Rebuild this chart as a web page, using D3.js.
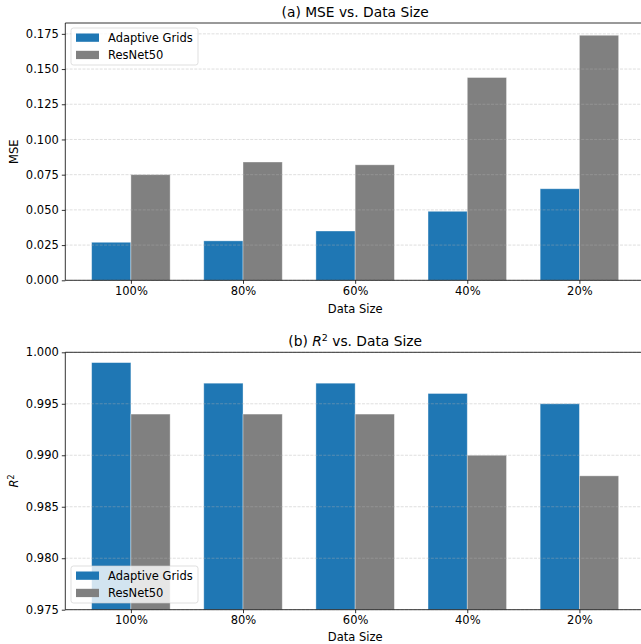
<!DOCTYPE html>
<html>
<head>
<meta charset="utf-8">
<script src="https://cdn.jsdelivr.net/npm/d3@7"></script>
<style>
  body { margin: 0; background: #fff; }
  svg { display: block; font-family: "DejaVu Sans", sans-serif; }
</style>
</head>
<body>
<svg id="chart" width="641" height="644"></svg>
<script>
// Data
const categories = ["100%", "80%", "60%", "40%", "20%"];
const seriesNames = ["Adaptive Grids", "ResNet50"];
const seriesColors = ["#1f77b4", "#808080"];
const mseAdaptive = [0.027, 0.028, 0.035, 0.049, 0.065];
const mseResNet = [0.075, 0.084, 0.082, 0.144, 0.174];
const r2Adaptive = [0.999, 0.997, 0.997, 0.996, 0.995];
const r2ResNet = [0.994, 0.994, 0.994, 0.990, 0.988];
const mseTicks = [0, 0.025, 0.05, 0.075, 0.1, 0.125, 0.15, 0.175];
const r2Ticks = [0.975, 0.98, 0.985, 0.99, 0.995, 1.0];

const svg = d3.select("#chart");
const barW = 0.35;
const fs = 11.5;

const panels = [
  { title: "(a) MSE vs. Data Size", ylab: "MSE", series: [mseAdaptive, mseResNet],
    domain: [0, 0.174 * 1.05], ticks: mseTicks, top: 23, bottom: 280.3, legendY: 28, xlabDy: 33 },
  { title: "(b) R² vs. Data Size", ylab: "R2", series: [r2Adaptive, r2ResNet],
    domain: [0.975, 1.0], ticks: r2Ticks, top: 352.3, bottom: 609.7, legendY: 566, xlabDy: 31 }
];

const left = 65.3, right = 645;

panels.forEach(p => {
  const x = d3.scaleLinear().domain([-0.585, categories.length - 1 + 0.585]).range([left, right]);
  const y = d3.scaleLinear().domain(p.domain).range([p.bottom, p.top]);
  const g = svg.append("g");

  // bars
  p.series.forEach((vals, si) => {
    g.selectAll(null)
      .data(vals)
      .enter()
      .append("rect")
      .attr("x", (d, i) => x(i - barW + si * barW))
      .attr("width", x(barW) - x(0))
      .attr("y", d => y(d))
      .attr("height", d => y(p.domain[0]) - y(d))
      .attr("fill", seriesColors[si])
      .attr("stroke", "#fff")
      .attr("stroke-opacity", 0.45)
      .attr("stroke-width", 0.8);
  });

  // dashed grid (drawn over the bars)
  g.selectAll(null)
    .data(p.ticks)
    .enter()
    .append("line")
    .attr("x1", left).attr("x2", right)
    .attr("y1", d => y(d)).attr("y2", d => y(d))
    .attr("stroke", "#b0b0b0")
    .attr("stroke-opacity", 0.5)
    .attr("stroke-width", 0.8)
    .attr("stroke-dasharray", "3,1.3");

  // axes
  const yAxis = d3.axisLeft(y).tickValues(p.ticks).tickFormat(d3.format(".3f")).tickSize(3.5).tickPadding(3);
  const ya = g.append("g").attr("transform", `translate(${left},0)`).call(yAxis);
  const xAxis = d3.axisBottom(x).tickValues(d3.range(categories.length))
    .tickFormat(i => categories[i]).tickSize(3.5).tickPadding(3);
  const xa = g.append("g").attr("transform", `translate(0,${p.bottom})`).call(xAxis);
  [ya, xa].forEach(a => {
    a.select(".domain").remove();
    a.selectAll(".tick line").attr("stroke", "#000").attr("stroke-width", 0.8);
    a.selectAll(".tick text").attr("font-size", fs).attr("fill", "#000")
      .style("font-family", "DejaVu Sans");
  });

  // spines (left, bottom, top)
  g.append("line").attr("x1", left).attr("x2", left).attr("y1", p.top).attr("y2", p.bottom)
    .attr("stroke", "#000").attr("stroke-width", 0.8);
  g.append("line").attr("x1", left).attr("x2", right).attr("y1", p.bottom).attr("y2", p.bottom)
    .attr("stroke", "#000").attr("stroke-width", 0.8);
  g.append("line").attr("x1", left).attr("x2", right).attr("y1", p.top).attr("y2", p.top)
    .attr("stroke", "#000").attr("stroke-width", 0.8);

  // title
  const t = g.append("text")
    .attr("x", (left + right) / 2)
    .attr("y", p.top - 6)
    .attr("text-anchor", "middle")
    .attr("font-size", 13.8);
  if (p.ylab === "R2") {
    t.append("tspan").text("(b) ");
    t.append("tspan").attr("font-style", "italic").text("R");
    t.append("tspan").attr("font-size", 9.5).attr("dy", -5).text("2");
    t.append("tspan").attr("dy", 5).text(" vs. Data Size");
  } else {
    t.text(p.title);
  }

  // x label
  g.append("text")
    .attr("x", (left + right) / 2)
    .attr("y", p.bottom + p.xlabDy)
    .attr("text-anchor", "middle")
    .attr("font-size", fs)
    .text("Data Size");

  // y label
  const cy = (p.top + p.bottom) / 2;
  const yl = g.append("text")
    .attr("transform", `translate(18,${cy}) rotate(-90)`)
    .attr("text-anchor", "middle")
    .attr("font-size", fs);
  if (p.ylab === "R2") {
    yl.append("tspan").attr("font-style", "italic").text("R");
    yl.append("tspan").attr("font-size", 8).attr("dy", -4).text("2");
  } else {
    yl.text(p.ylab);
  }

  // legend
  const lg = g.append("g").attr("transform", `translate(71,${p.legendY})`);
  lg.append("rect")
    .attr("width", 127).attr("height", 37).attr("rx", 2.5)
    .attr("fill", "#fff").attr("fill-opacity", 0.8)
    .attr("stroke", "#ccc").attr("stroke-opacity", 0.8).attr("stroke-width", 0.8);
  seriesNames.forEach((name, i) => {
    lg.append("rect")
      .attr("x", 5).attr("y", 5.5 + i * 17.3)
      .attr("width", 23).attr("height", 8.3)
      .attr("fill", seriesColors[i]);
    lg.append("text")
      .attr("x", 37).attr("y", 14 + i * 17.3)
      .attr("font-size", fs)
      .text(name);
  });
});
</script>
</body>
</html>
